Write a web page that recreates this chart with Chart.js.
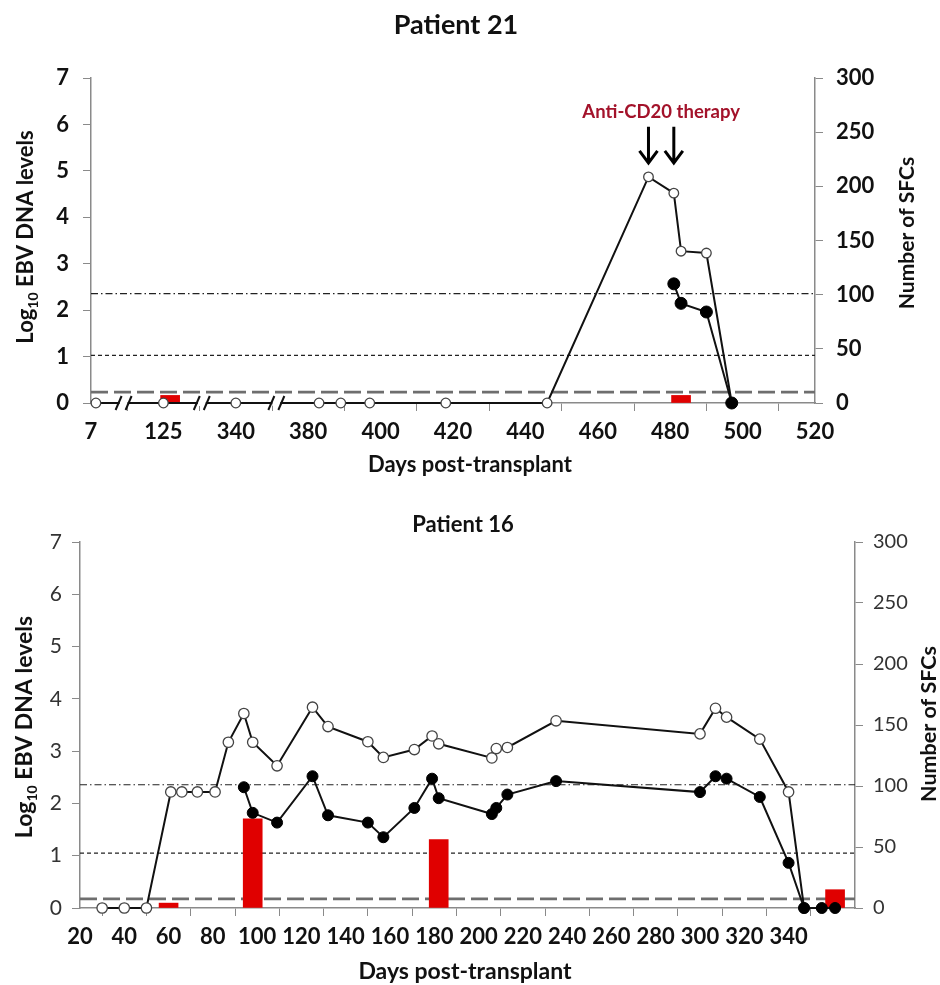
<!DOCTYPE html>
<html>
<head>
<meta charset="utf-8">
<script src="https://cdn.jsdelivr.net/npm/chart.js@4.4.1/dist/chart.umd.min.js"></script>
<style>
  body { margin: 0; background: #fff; }
  #top { position: absolute; left: 0; top: 0; width: 940px; height: 490px; }
  #bottom { position: absolute; left: 0; top: 490px; width: 940px; height: 495px; }
</style>
</head>
<body>
<div id="top"><canvas id="p21" width="940" height="490"></canvas></div>
<div id="bottom"><canvas id="p16" width="940" height="495"></canvas></div>
<script>
// ---- Patient 21 (broken x axis) ----
const p21TickDays = [7, 125, 340, 380, 400, 420, 440, 460, 480, 500, 520];
const p21DnaDays = [15, 125, 340, 383, 389, 397, 418, 446, 474, 481, 483, 490, 497];
const p21Dna = [0, 0, 0, 0, 0, 0, 0, 0, 4.87, 4.52, 3.27, 3.23, 0];
const p21SfcDays = [481, 483, 490, 497];
const p21Sfc = [110, 92, 84, 0];
const p21BarDays = [145, 483];
const p21Bars = [7, 7];
const p21TherapyDays = [474, 481];
const p21Thresholds = [101, 44, 10];

// ---- Patient 16 ----
const p16DnaDays = [30, 40, 50, 61, 66, 73, 81, 87, 94, 98, 109, 125, 132, 150, 157, 171, 179, 182,
  206, 208, 213, 235, 300, 307, 312, 327, 340, 347];
const p16Dna = [0, 0, 0, 2.22, 2.22, 2.22, 2.22, 3.17, 3.72, 3.17, 2.72, 3.84, 3.47, 3.18, 2.88, 3.03, 3.29, 3.14,
  2.87, 3.05, 3.07, 3.58, 3.33, 3.82, 3.65, 3.23, 2.22, 0];
const p16SfcDays = [94, 98, 109, 125, 132, 150, 157, 171, 179, 182, 206, 208, 213, 235, 300, 307, 312, 327, 340, 347, 355, 361];
const p16Sfc = [99, 78, 70, 108, 76, 70, 58, 82, 106, 90, 77, 82, 93, 104, 95, 108, 106, 91, 37, 0, 0, 0];
const p16BarDays = [60, 98, 182, 361];
const p16Bars = [4, 73, 56, 15];
const p16Thresholds = [101, 45, 7.5];

const FONT = 'Lato';
const AXIS_GRAY = '#8a8a8a';

// position of a day on the broken axis of patient 21 (one unit per tick gap)
function p21Pos(day) {
  const n = p21TickDays.length;
  for (let i = 0; i < n - 1; i++) {
    const a = p21TickDays[i], b = p21TickDays[i + 1];
    if (day <= b || i === n - 2) return i + (day - a) / (b - a);
  }
}

const thresholdStyles = [
  { color: '#222', width: 1.1, dash: [7, 3, 1.5, 3] },
  { color: '#222', width: 1.2, dash: [4, 3] },
  { color: '#6e6e6e', width: 2.6, dash: [17, 6] }
];

function pts(xs, ys, fx) {
  return xs.map((d, i) => ({ x: fx ? fx(d) : d, y: ys[i] }));
}

function drawRotated(ctx, x, y, draw) {
  ctx.save();
  ctx.translate(x, y);
  ctx.rotate(-Math.PI / 2);
  draw();
  ctx.restore();
}

function decor(cfg) {
  return {
    id: 'decor',
    beforeDatasetsDraw(chart) {
      const ctx = chart.ctx, a = chart.chartArea, y1 = chart.scales.y1;
      cfg.thresholds.forEach((v, i) => {
        const s = thresholdStyles[i];
        const y = y1.getPixelForValue(v);
        ctx.save();
        ctx.strokeStyle = s.color;
        ctx.lineWidth = s.width;
        ctx.setLineDash(s.dash);
        ctx.beginPath();
        ctx.moveTo(a.left, y);
        ctx.lineTo(a.right, y);
        ctx.stroke();
        ctx.restore();
      });
    },
    afterDraw(chart) {
      const ctx = chart.ctx;
      ctx.save();
      ctx.fillStyle = '#111';
      // chart title
      ctx.font = 'bold ' + cfg.title.size + 'px ' + FONT;
      ctx.textAlign = 'center';
      ctx.textBaseline = 'middle';
      ctx.fillText(cfg.title.text, cfg.title.x, cfg.title.y);
      // x title
      ctx.font = 'bold ' + cfg.xTitle.size + 'px ' + FONT;
      ctx.fillText('Days post-transplant', cfg.xTitle.x, cfg.xTitle.y);
      // right title
      drawRotated(ctx, cfg.rTitle.x, cfg.rTitle.y, () => {
        ctx.font = 'bold ' + cfg.rTitle.size + 'px ' + FONT;
        ctx.textAlign = 'center';
        ctx.textBaseline = 'middle';
        ctx.fillText('Number of SFCs', 0, 0);
      });
      // left title with subscript
      drawRotated(ctx, cfg.lTitle.x, cfg.lTitle.y, () => {
        const fs = cfg.lTitle.size, sub = Math.round(fs * 0.62);
        const main = 'bold ' + fs + 'px ' + FONT, small = 'bold ' + sub + 'px ' + FONT;
        ctx.textBaseline = 'alphabetic';
        ctx.textAlign = 'left';
        ctx.font = main;
        const w1 = ctx.measureText('Log').width;
        const w3 = ctx.measureText(' EBV DNA levels').width;
        ctx.font = small;
        const w2 = ctx.measureText('10').width;
        let x = -(w1 + w2 + w3) / 2;
        const base = fs * 0.36;
        ctx.font = main;
        ctx.fillText('Log', x, base);
        x += w1;
        ctx.font = small;
        ctx.fillText('10', x, base + fs * 0.22);
        x += w2;
        ctx.font = main;
        ctx.fillText(' EBV DNA levels', x, base);
      });
      ctx.restore();
      if (cfg.extra) cfg.extra(chart);
    }
  };
}

function axisCommon(extra) {
  return Object.assign({
    grid: { drawOnChartArea: false, drawTicks: true, tickLength: 8, color: AXIS_GRAY, lineWidth: 1 },
    border: { display: true, color: AXIS_GRAY, width: 1.5 }
  }, extra);
}

function lineDs(data, axis, filled, r) {
  return {
    type: 'line', data, yAxisID: axis,
    borderColor: '#111', borderWidth: 2, tension: 0, clip: false,
    pointRadius: r, pointHoverRadius: r,
    pointBackgroundColor: filled ? '#000' : '#fff',
    pointBorderColor: filled ? '#000' : '#444',
    pointBorderWidth: filled ? 1 : 1.3,
    order: filled ? 0 : 1
  };
}

function barDs(data) {
  return {
    type: 'bar', data, yAxisID: 'y1', backgroundColor: '#e00000',
    barThickness: 19, order: 2, clip: false
  };
}

// ---------- Patient 21 ----------
new Chart(document.getElementById('p21'), {
  type: 'line',
  data: {
    datasets: [
      lineDs(pts(p21SfcDays, p21Sfc, p21Pos), 'y1', true, 6),
      lineDs(pts(p21DnaDays, p21Dna, p21Pos), 'y', false, 4.8),
      barDs(pts(p21BarDays, p21Bars, p21Pos))
    ]
  },
  options: {
    responsive: false,
    animation: false,
    layout: { padding: { top: 78, left: 0, right: 0, bottom: 0 } },
    plugins: { legend: { display: false }, tooltip: { enabled: false } },
    scales: {
      x: axisCommon({
        type: 'linear', min: 0, max: 10, offset: false,
        afterFit: s => { s.height = 87; },
        ticks: {
          stepSize: 1, autoSkip: false, maxRotation: 0, padding: 8, color: '#111',
          font: { family: FONT, size: 22, weight: 'bold' },
          callback: v => p21TickDays[v]
        }
      }),
      y: axisCommon({
        position: 'left', min: 0, max: 7,
        afterFit: s => { s.width = 91; },
        ticks: { stepSize: 1, padding: 14, color: '#111', font: { family: FONT, size: 22, weight: 'bold' } }
      }),
      y1: axisCommon({
        position: 'right', min: 0, max: 300,
        afterFit: s => { s.width = 125; },
        ticks: { stepSize: 50, padding: 13, color: '#111', font: { family: FONT, size: 22, weight: 'bold' } }
      })
    }
  },
  plugins: [decor({
    thresholds: p21Thresholds,
    title: { text: 'Patient 21', size: 27, x: 456, y: 25 },
    xTitle: { size: 22, x: 470, y: 465 },
    rTitle: { size: 21, x: 907, y: 233 },
    lTitle: { size: 22, x: 25, y: 237 },
    extra(chart) {
      const ctx = chart.ctx, xs = chart.scales.x, ys = chart.scales.y;
      const base = ys.getPixelForValue(0);
      // axis break marks
      [0.45, 1.53, 2.56].forEach(p => {
        const cx = xs.getPixelForValue(p);
        ctx.save();
        ctx.fillStyle = '#fff';
        ctx.fillRect(cx - 4, base - 3, 8, 6);
        ctx.strokeStyle = '#111';
        ctx.lineWidth = 2;
        [-5, 5].forEach(dx => {
          ctx.beginPath();
          ctx.moveTo(cx + dx - 3, base + 7);
          ctx.lineTo(cx + dx + 3, base - 7);
          ctx.stroke();
        });
        ctx.restore();
      });
      // therapy arrows and label
      const ax = p21TherapyDays.map(d => xs.getPixelForValue(p21Pos(d)));
      const top = ys.getPixelForValue(5.95), tip = ys.getPixelForValue(5.17);
      ctx.save();
      ctx.strokeStyle = '#000';
      ctx.lineWidth = 3;
      ax.forEach(x => {
        ctx.beginPath();
        ctx.moveTo(x, top);
        ctx.lineTo(x, tip);
        ctx.moveTo(x - 9, tip - 12);
        ctx.lineTo(x, tip);
        ctx.lineTo(x + 9, tip - 12);
        ctx.stroke();
      });
      ctx.fillStyle = '#a3122a';
      ctx.font = 'bold 18.5px ' + FONT;
      ctx.textAlign = 'center';
      ctx.textBaseline = 'middle';
      ctx.fillText('Anti-CD20 therapy', (ax[0] + ax[1]) / 2, ys.getPixelForValue(6.27));
      ctx.restore();
    }
  })]
});

// ---------- Patient 16 ----------
new Chart(document.getElementById('p16'), {
  type: 'line',
  data: {
    datasets: [
      lineDs(pts(p16SfcDays, p16Sfc), 'y1', true, 5.5),
      lineDs(pts(p16DnaDays, p16Dna), 'y', false, 5.2),
      barDs(pts(p16BarDays, p16Bars))
    ]
  },
  options: {
    responsive: false,
    animation: false,
    layout: { padding: { top: 52, left: 0, right: 0, bottom: 0 } },
    plugins: { legend: { display: false }, tooltip: { enabled: false } },
    scales: {
      x: axisCommon({
        type: 'linear', min: 20, max: 370, offset: false,
        afterFit: s => { s.height = 77; },
        afterBuildTicks: s => { s.ticks = s.ticks.filter(t => t.value <= 360); },
        ticks: {
          stepSize: 20, autoSkip: false, maxRotation: 0, padding: 8, color: '#111',
          font: { family: FONT, size: 22, weight: 'bold' }
        }
      }),
      y: axisCommon({
        position: 'left', min: 0, max: 7,
        afterFit: s => { s.width = 80; },
        ticks: { stepSize: 1, padding: 10, color: '#333', font: { family: FONT, size: 21 } }
      }),
      y1: axisCommon({
        position: 'right', min: 0, max: 300,
        afterFit: s => { s.width = 85; },
        ticks: { stepSize: 50, padding: 10, color: '#333', font: { family: FONT, size: 20 } }
      })
    }
  },
  plugins: [decor({
    thresholds: p16Thresholds,
    title: { text: 'Patient 16', size: 22, x: 463, y: 35 },
    xTitle: { size: 23, x: 465, y: 482 },
    rTitle: { size: 21.5, x: 929, y: 234 },
    lTitle: { size: 23, x: 24, y: 237 }
  })]
});
</script>
</body>
</html>
